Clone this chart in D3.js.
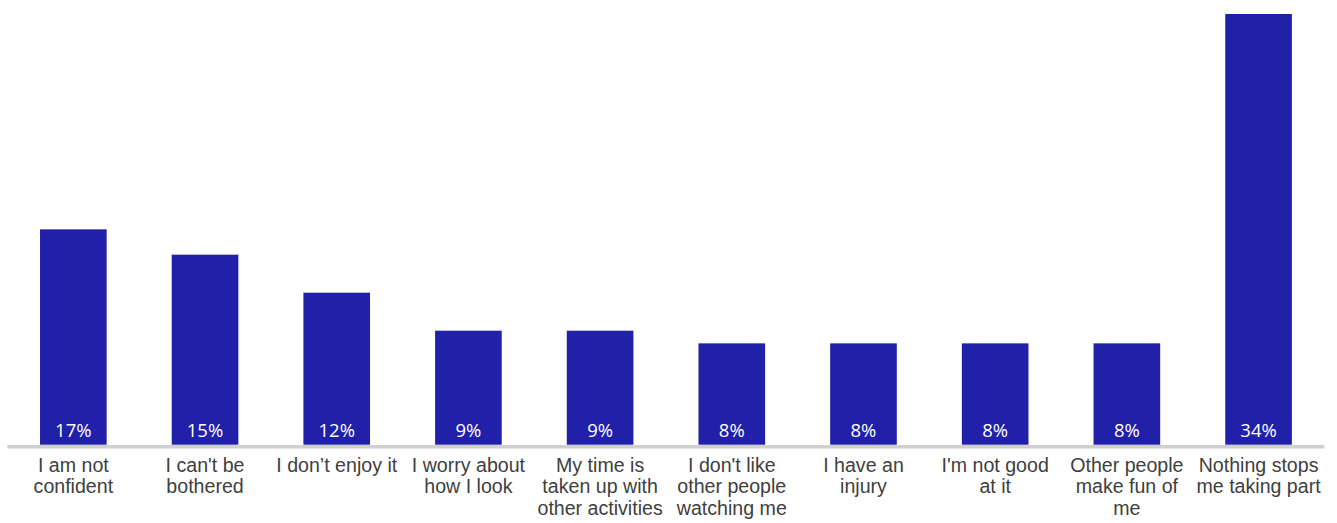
<!DOCTYPE html>
<html>
<head>
<meta charset="utf-8">
<script src="https://cdn.jsdelivr.net/npm/d3@7"></script>
<style>
  html, body { margin: 0; padding: 0; background: #fff; }
  svg { display: block; }
</style>
</head>
<body>
<svg id="chart" width="1337" height="523"></svg>
<script>
// Reasons for not taking part (share of respondents, %); "\n" marks a label line break
const categories = [
  "I am not\nconfident",
  "I can't be\nbothered",
  "I don\u2019t enjoy it",
  "I worry about\nhow I look",
  "My time is\ntaken up with\nother activities",
  "I don't like\nother people\nwatching me",
  "I have an\ninjury",
  "I'm not good\nat it",
  "Other people\nmake fun of\nme",
  "Nothing stops\nme taking part"
];
const values = [17, 15, 12, 9, 9, 8, 8, 8, 8, 34];
const valueLabels = ["17%", "15%", "12%", "9%", "9%", "8%", "8%", "8%", "8%", "34%"];

const svg = d3.select("#chart");
const baseY = 444.7;

const x = d3.scaleBand()
  .domain(categories)
  .range([7.5, 1324.4])
  .paddingInner(0.494)
  .paddingOuter(0.247);

const y = d3.scaleLinear()
  .domain([0, 34])
  .range([baseY, 14]);

// bars
svg.append("g")
  .selectAll("rect")
  .data(values)
  .join("rect")
  .attr("x", (d, i) => x(categories[i]))
  .attr("y", d => y(d))
  .attr("width", x.bandwidth())
  .attr("height", d => y(0) - y(d))
  .attr("fill", "#2020A8");

// value labels inside the bar foot
svg.append("g")
  .selectAll("text")
  .data(values)
  .join("text")
  .attr("x", (d, i) => x(categories[i]) + x.bandwidth() / 2)
  .attr("y", baseY - 8)
  .attr("text-anchor", "middle")
  .attr("fill", "#ffffff")
  .style("font-family", "'Open Sans', sans-serif")
  .style("font-size", "18.5px")
  .text((d, i) => valueLabels[i]);

// baseline
svg.append("line")
  .attr("x1", 7.3).attr("x2", 1324.4)
  .attr("y1", baseY + 2).attr("y2", baseY + 2)
  .attr("stroke", "#d0d0d0")
  .attr("stroke-width", 3.5);

// category labels
const axis = d3.axisBottom(x).tickSize(0).tickPadding(0);
const gAxis = svg.append("g")
  .attr("transform", `translate(0,${baseY})`)
  .call(axis);
gAxis.select(".domain").remove();

gAxis.selectAll(".tick text")
  .attr("fill", "#404040")
  .style("font-family", "'Liberation Sans', Arial, sans-serif")
  .style("font-size", "19.6px")
  .each(function(label) {
    const t = d3.select(this);
    t.text(null).attr("y", null).attr("dy", null);
    label.split("\n").forEach((ln, i) => {
      t.append("tspan")
        .attr("x", 0)
        .attr("y", 27 + i * 21.6)
        .text(ln);
    });
  });
</script>
</body>
</html>
